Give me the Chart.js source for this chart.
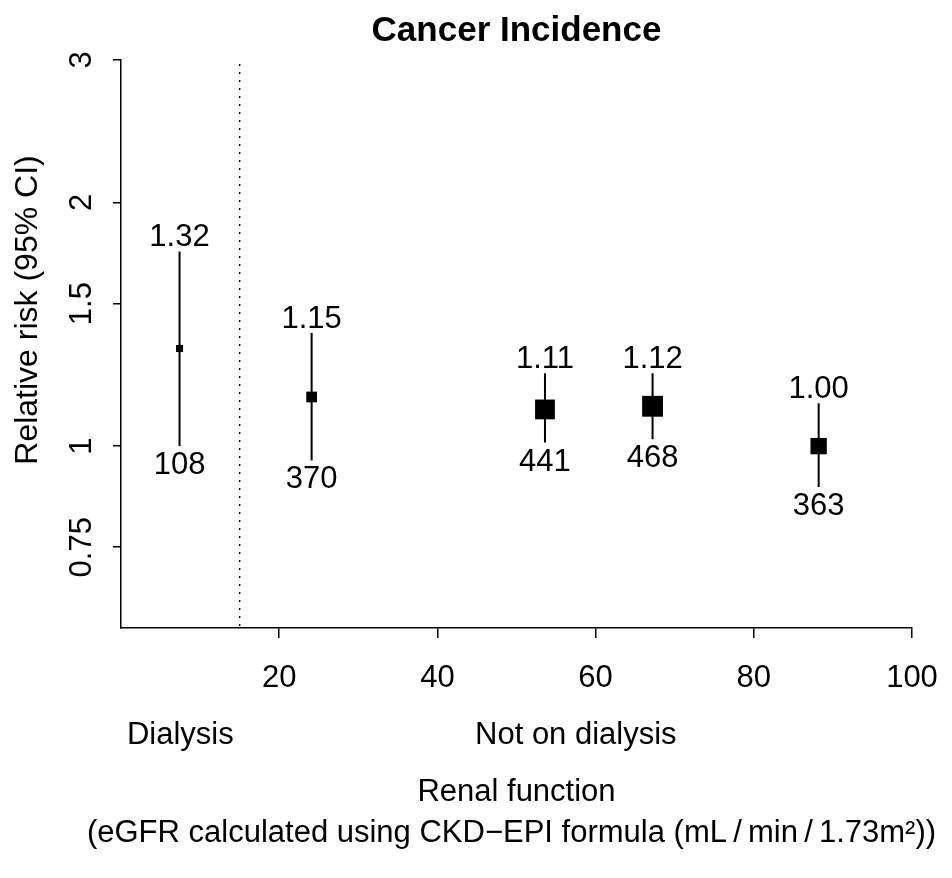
<!DOCTYPE html>
<html>
<head>
<meta charset="utf-8">
<script src="https://cdn.jsdelivr.net/npm/chart.js@4.4.1/dist/chart.umd.min.js"></script>
<style>
  html, body { margin: 0; padding: 0; background: #fff; }
</style>
</head>
<body>
<canvas id="myChart" width="952" height="878"></canvas>
<script>
// estimates per eGFR group (x = group midpoint)
const egfr = [7.4, 24.1, 53.6, 67.2, 88.2];
const relRisk = [1.32, 1.15, 1.11, 1.12, 1.00];
const ciLower = [1.00, 0.96, 1.01, 1.02, 0.89];
const ciUpper = [1.74, 1.38, 1.23, 1.23, 1.13];
const cases = [108, 370, 441, 468, 363];

const dialysisCut = 15;
const groupLabels = ['Dialysis', 'Not on dialysis'];
const xTicks = [20, 40, 60, 80, 100];
const yTicks = [0.75, 1, 1.5, 2, 3];
const yTickLabels = ['0.75', '1', '1.5', '2', '3'];

const FONT = "'Liberation Sans', Arial, Helvetica, sans-serif";
Chart.defaults.font.family = FONT;
Chart.defaults.color = '#000';

// CI segments, broken by null points
const ciPoints = [];
egfr.forEach((x, i) => {
    ciPoints.push({x: x, y: ciLower[i]}, {x: x, y: ciUpper[i]}, {x: x, y: null});
});

// box side in px, inverse to CI width (like a forest plot)
const boxSide = (i) => 3.9 / Math.log(ciUpper[i] / ciLower[i]);

const extras = {
    id: 'extras',
    afterDatasetsDraw(chart) {
        const ctx = chart.ctx;
        const xs = chart.scales.x, ys = chart.scales.y;
        const area = chart.chartArea;
        const mid = (area.left + area.right) / 2;
        ctx.save();

        // dotted line at dialysis cut-off
        const cx = xs.getPixelForValue(dialysisCut);
        ctx.strokeStyle = '#000';
        ctx.lineWidth = 1.5;
        ctx.setLineDash([2, 6]);
        ctx.beginPath();
        ctx.moveTo(cx, area.top + 4);
        ctx.lineTo(cx, area.bottom);
        ctx.stroke();
        ctx.setLineDash([]);

        // title, centred on the plot region
        ctx.fillStyle = '#000';
        ctx.textAlign = 'center';
        ctx.textBaseline = 'middle';
        ctx.font = 'bold 35px ' + FONT;
        ctx.fillText('Cancer Incidence', mid, 31);

        // estimate labels above, case counts below
        ctx.font = '31px ' + FONT;
        ctx.textBaseline = 'alphabetic';
        egfr.forEach((x, i) => {
            const px = xs.getPixelForValue(x);
            ctx.fillText(relRisk[i].toFixed(2), px, ys.getPixelForValue(ciUpper[i]) - 5);
            ctx.fillText(String(cases[i]), px, ys.getPixelForValue(ciLower[i]) + 28);
        });

        // group labels
        ctx.textBaseline = 'middle';
        ctx.fillText(groupLabels[0], xs.getPixelForValue((xs.min + dialysisCut) / 2), 735);
        ctx.fillText(groupLabels[1], xs.getPixelForValue((dialysisCut + xs.max) / 2), 735);

        // x title
        ctx.fillText('Renal function', mid, 792);
        ctx.fillText('(eGFR calculated using CKD\u2212EPI formula (mL\u2009/\u2009min\u2009/\u20091.73m\u00B2))', mid - 5, 833);

        // y title
        ctx.font = '32px ' + FONT;
        ctx.translate(28, 310);
        ctx.rotate(-Math.PI / 2);
        ctx.fillText('Relative risk (95% CI)', 0, 0);
        ctx.restore();
    }
};

const config = {
    type: 'scatter',
    data: {
        datasets: [
            {
                label: 'CI',
                data: ciPoints,
                showLine: true,
                spanGaps: false,
                borderColor: '#000',
                borderWidth: 2,
                pointRadius: 0
            },
            {
                label: 'RR',
                data: egfr.map((x, i) => ({x: x, y: relRisk[i]})),
                pointStyle: 'rect',
                pointRadius: (c) => boxSide(c.dataIndex) / Math.SQRT2,
                backgroundColor: '#000',
                borderWidth: 0
            }
        ]
    },
    options: {
        responsive: false,
        devicePixelRatio: 1,
        animation: false,
        events: [],
        layout: { padding: { left: 0, right: 40, top: 60, bottom: 0 } },
        plugins: {
            legend: { display: false },
            tooltip: { enabled: false },
            title: { display: false }
        },
        scales: {
            x: {
                type: 'linear',
                min: 0,
                max: 100,
                afterBuildTicks: (s) => { s.ticks = xTicks.map(v => ({value: v})); },
                afterFit: (s) => { s.height = 250; },
                grid: { drawOnChartArea: false, drawTicks: true, tickLength: 10, color: '#000', lineWidth: 1.5 },
                border: { display: true, color: '#000', width: 1.5 },
                ticks: { color: '#000', font: { size: 31, lineHeight: 1.72 }, padding: 14, maxRotation: 0, autoSkip: false }
            },
            y: {
                type: 'logarithmic',
                min: 0.596,
                max: 3,
                afterBuildTicks: (s) => { s.ticks = yTicks.map(v => ({value: v})); },
                afterFit: (s) => { s.width = 121; },
                grid: { drawOnChartArea: false, drawTicks: true, tickLength: 8, color: '#000', lineWidth: 1.5 },
                border: { display: true, color: '#000', width: 1.5 },
                ticks: {
                    color: '#000',
                    font: { size: 31 },
                    minRotation: 90,
                    maxRotation: 90,
                    crossAlign: 'center',
                    padding: 0,
                    autoSkip: false,
                    callback: (v, i) => yTickLabels[i]
                }
            }
        }
    },
    plugins: [extras]
};

const myChart = new Chart(document.getElementById('myChart'), config);
</script>
</body>
</html>
